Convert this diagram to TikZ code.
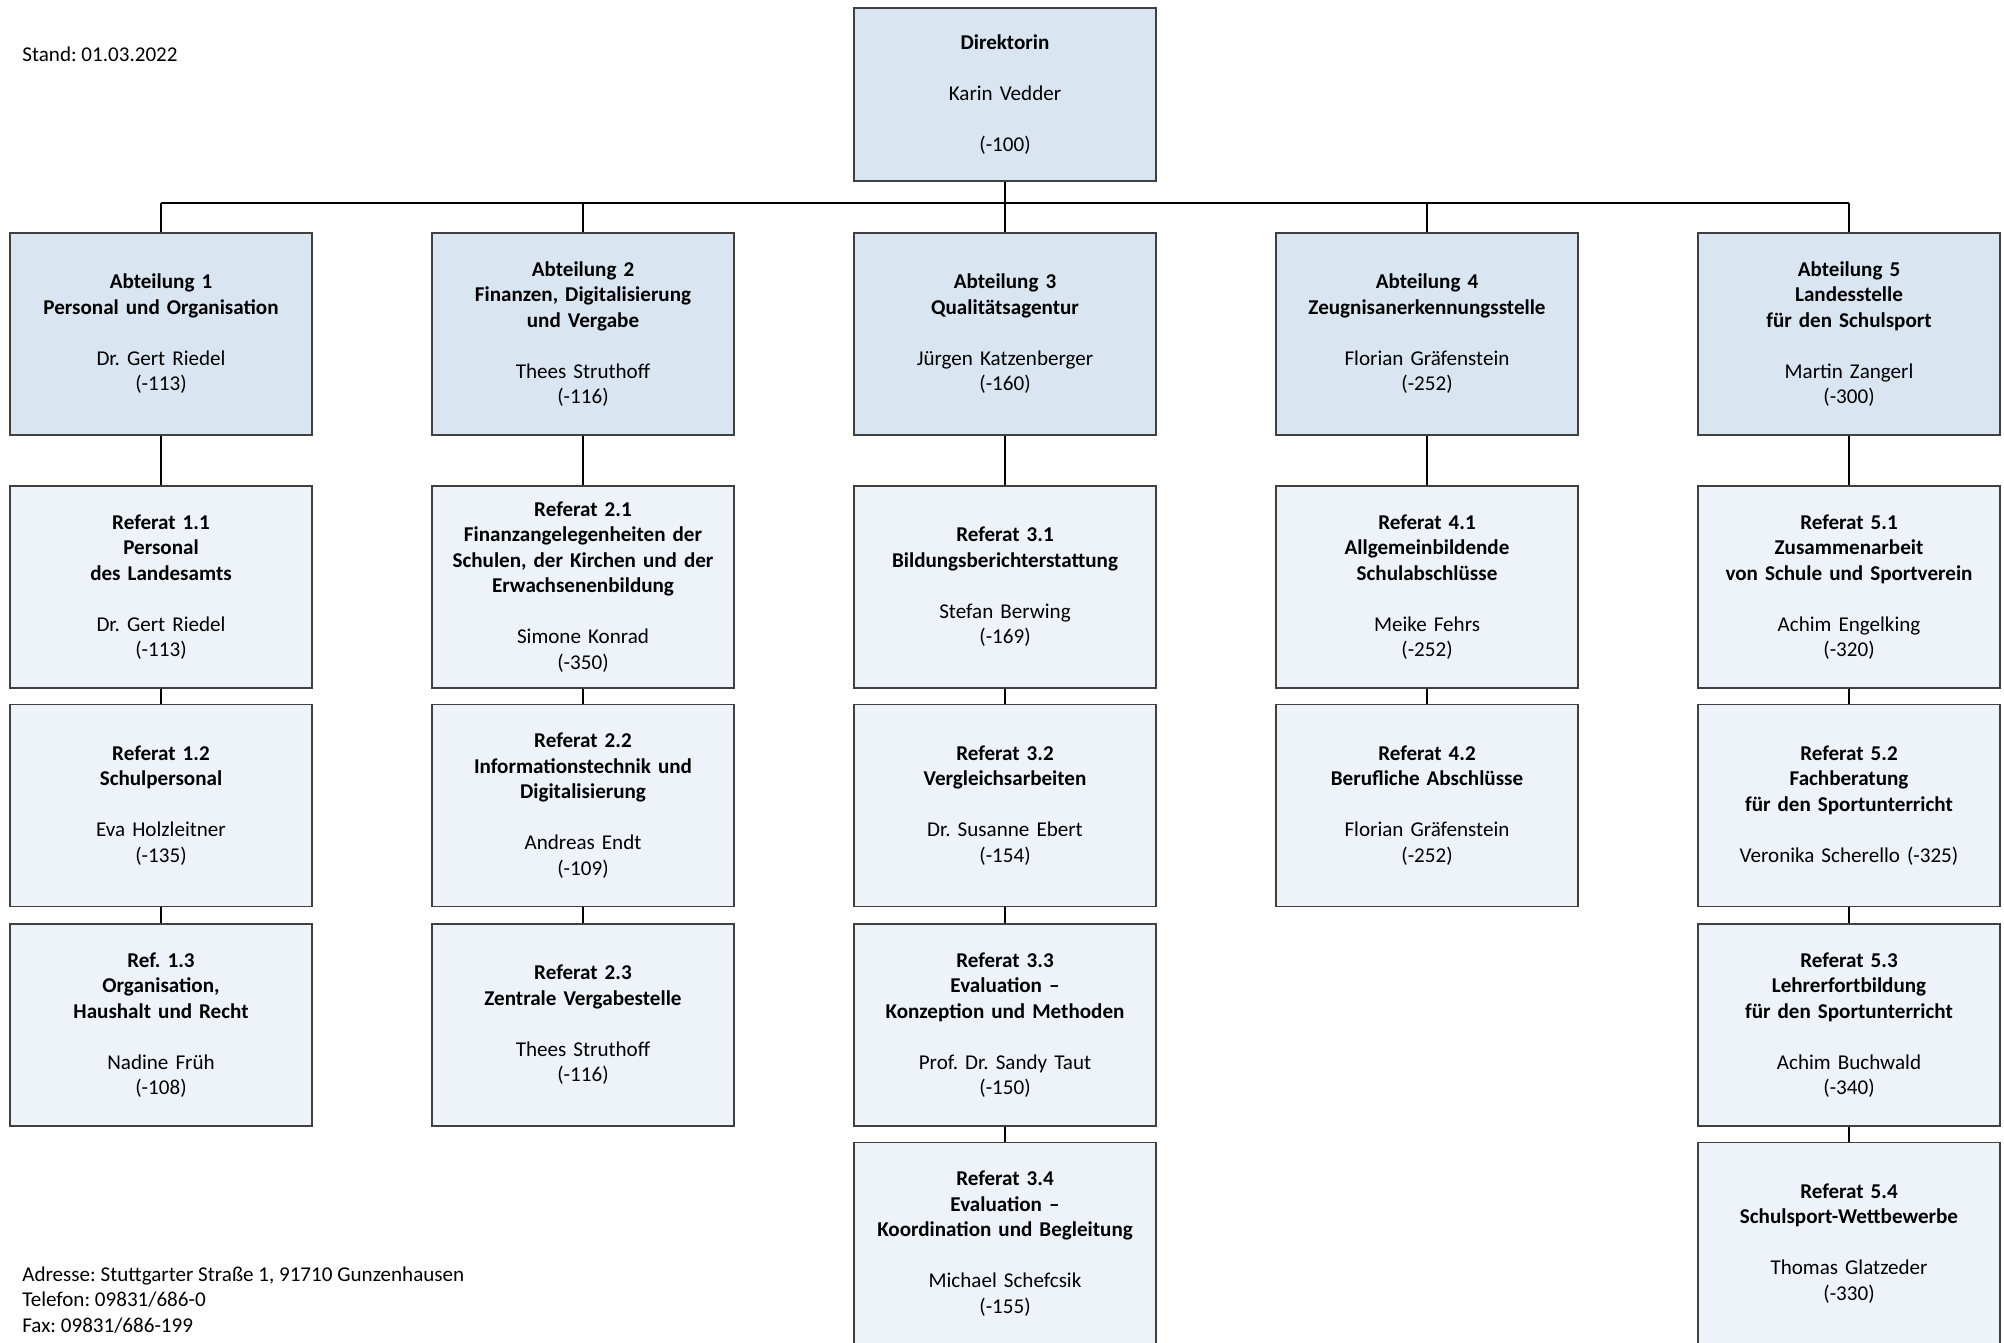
\documentclass[tikz,border=0pt]{standalone}
\usepackage{fontspec}
\setmainfont{Carlito}
\usepackage{tikz}
\usetikzlibrary{positioning}
\frenchspacing

\definecolor{abtblue}{HTML}{DAE5F2}
\definecolor{refblue}{HTML}{EEF3FA}

\begin{document}
\begin{tikzpicture}[x=0.02cm,y=-0.02cm,
    box/.style={draw=black!75,line width=0.7pt,minimum width=6.04cm,minimum height=4.04cm,
      text width=5.8cm,align=center,inner sep=0pt,font=\fontsize{12}{14.5}\selectfont},
    abt/.style={box,fill=abtblue},
    ref/.style={box,fill=refblue},
    conn/.style={line width=0.85pt},
    info/.style={anchor=west,align=left,inner sep=0pt,font=\fontsize{12}{14.5}\selectfont}]
    \useasboundingbox (0,0) rectangle (2004,1342);
    \fill[white] (0,0) rectangle (2004,1342);

    % top
    \node (dir) at (1005,94.5) [abt,minimum height=3.46cm] {\textbf{Direktorin}\\[14.5pt]Karin Vedder\\[14.5pt](-100)};

    \node (stand) at (22,54) [info] {Stand: 01.03.2022};
    \node (adr) at (22,1300) [info] {Adresse: Stuttgarter Straße 1, 91710 Gunzenhausen\\Telefon: 09831/686-0\\Fax: 09831/686-199};

    % abteilungen
    \node (abt1) at (161,334) [abt] {\bfseries Abteilung 1\\Personal und Organisation\\[14.5pt]\mdseries Dr. Gert Riedel\\(-113)};
    \node (abt2) at (583,334) [abt] {\bfseries Abteilung 2\\Finanzen, Digitalisierung\\und Vergabe\\[14.5pt]\mdseries Thees Struthoff\\(-116)};
    \node (abt3) at (1005,334) [abt] {\bfseries Abteilung 3\\Qualitätsagentur\\[14.5pt]\mdseries Jürgen Katzenberger\\(-160)};
    \node (abt4) at (1427,334) [abt] {\bfseries Abteilung 4\\Zeugnisanerkennungsstelle\\[14.5pt]\mdseries Florian Gräfenstein\\(-252)};
    \node (abt5) at (1849,334) [abt] {\bfseries Abteilung 5\\Landesstelle\\für den Schulsport\\[14.5pt]\mdseries Martin Zangerl\\(-300)};

    % referate
    \node (ref11) at (161,587) [ref] {\bfseries Referat 1.1\\Personal\\des Landesamts\\[14.5pt]\mdseries Dr. Gert Riedel\\(-113)};
    \node (ref12) at (161,805.5) [ref] {\bfseries Referat 1.2\\Schulpersonal\\[14.5pt]\mdseries Eva Holzleitner\\(-135)};
    \node (ref13) at (161,1025) [ref] {\bfseries Ref. 1.3\\Organisation,\\Haushalt und Recht\\[14.5pt]\mdseries Nadine Früh\\(-108)};

    \node (ref21) at (583,587) [ref] {\bfseries Referat 2.1\\Finanzangelegenheiten der\\Schulen, der Kirchen und der\\Erwachsenenbildung\\[14.5pt]\mdseries Simone Konrad\\(-350)};
    \node (ref22) at (583,805.5) [ref] {\bfseries Referat 2.2\\Informationstechnik und\\Digitalisierung\\[14.5pt]\mdseries Andreas Endt\\(-109)};
    \node (ref23) at (583,1025) [ref] {\bfseries Referat 2.3\\Zentrale Vergabestelle\\[14.5pt]\mdseries Thees Struthoff\\(-116)};

    \node (ref31) at (1005,587) [ref] {\bfseries Referat 3.1\\Bildungsberichterstattung\\[14.5pt]\mdseries Stefan Berwing\\(-169)};
    \node (ref32) at (1005,805.5) [ref] {\bfseries Referat 3.2\\Vergleichsarbeiten\\[14.5pt]\mdseries Dr. Susanne Ebert\\(-154)};
    \node (ref33) at (1005,1025) [ref] {\bfseries Referat 3.3\\Evaluation --\\Konzeption und Methoden\\[14.5pt]\mdseries Prof. Dr. Sandy Taut\\(-150)};
    \node (ref34) at (1005,1243.5) [ref] {\bfseries Referat 3.4\\Evaluation --\\Koordination und Begleitung\\[14.5pt]\mdseries Michael Schefcsik\\(-155)};

    \node (ref41) at (1427,587) [ref] {\bfseries Referat 4.1\\Allgemeinbildende\\Schulabschlüsse\\[14.5pt]\mdseries Meike Fehrs\\(-252)};
    \node (ref42) at (1427,805.5) [ref] {\bfseries Referat 4.2\\Berufliche Abschlüsse\\[14.5pt]\mdseries Florian Gräfenstein\\(-252)};

    \node (ref51) at (1849,587) [ref] {\bfseries Referat 5.1\\Zusammenarbeit\\von Schule und Sportverein\\[14.5pt]\mdseries Achim Engelking\\(-320)};
    \node (ref52) at (1849,805.5) [ref] {\bfseries Referat 5.2\\Fachberatung\\für den Sportunterricht\\[14.5pt]\mdseries Veronika Scherello (-325)};
    \node (ref53) at (1849,1025) [ref] {\bfseries Referat 5.3\\Lehrerfortbildung\\für den Sportunterricht\\[14.5pt]\mdseries Achim Buchwald\\(-340)};
    \node (ref54) at (1849,1243.5) [ref] {\bfseries Referat 5.4\\Schulsport-Wettbewerbe\\[14.5pt]\mdseries Thomas Glatzeder\\(-330)};

    % connectors
    \coordinate (busl) at (161,203);
    \coordinate (busr) at (1849,203);
    \draw[conn,line width=1.2pt] (busl) to (busr);
    \draw[conn] (dir.south) to (dir.south |- busl);
    \foreach \i in {1,...,5}
      \draw[conn] (abt\i.north |- busl) to (abt\i.north);

    \draw[conn] (abt1) to (ref11) (ref11) to (ref12) (ref12) to (ref13);
    \draw[conn] (abt2) to (ref21) (ref21) to (ref22) (ref22) to (ref23);
    \draw[conn] (abt3) to (ref31) (ref31) to (ref32) (ref32) to (ref33) (ref33) to (ref34);
    \draw[conn] (abt4) to (ref41) (ref41) to (ref42);
    \draw[conn] (abt5) to (ref51) (ref51) to (ref52) (ref52) to (ref53) (ref53) to (ref54);
  \end{tikzpicture}
\end{document}
